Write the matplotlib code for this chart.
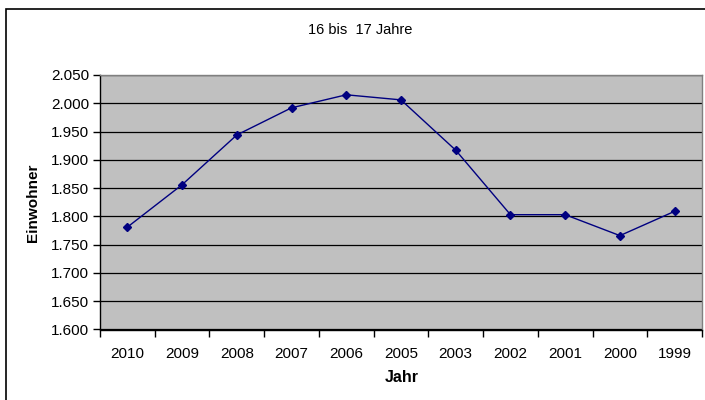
import matplotlib
matplotlib.use("Agg")
import matplotlib.pyplot as plt
from matplotlib.patches import Rectangle
from matplotlib.ticker import FixedLocator, NullFormatter

plt.rcParams['font.family'] = ['Liberation Sans', 'DejaVu Sans']

years = ["2010", "2009", "2008", "2007", "2006", "2005", "2003", "2002", "2001", "2000", "1999"]
values = [1781, 1856, 1944, 1992, 2015, 2006, 1917, 1803, 1803, 1766, 1809]
yticks = [1600, 1650, 1700, 1750, 1800, 1850, 1900, 1950, 2000, 2050]
ytick_labels = ["1.600", "1.650", "1.700", "1.750", "1.800", "1.850", "1.900", "1.950", "2.000", "2.050"]

W, H = 705, 400
fig = plt.figure(figsize=(W / 100, H / 100), dpi=100)
fig.patch.set_facecolor('white')

# outer chart border
fig.add_artist(Rectangle((6 / W, -0.05), 1.2, (H - 9) / H + 0.05, transform=fig.transFigure,
                         fill=False, edgecolor='black', linewidth=1.2))

ax = fig.add_axes([100 / W, (H - 329.5) / H, (702 - 100) / W, (329.5 - 75) / H])
ax.set_facecolor('#c0c0c0')

x = list(range(len(years)))
ax.plot(x, values, color='#000080', linewidth=1.0, marker='D', markersize=4.5,
        markerfacecolor='#000080', markeredgecolor='#000080', zorder=3)

ax.set_xlim(-0.5, len(years) - 0.5)
ax.set_ylim(1600, 2050)
ax.set_yticks(yticks)
ax.set_yticklabels(ytick_labels, fontsize=11)
ax.yaxis.grid(True, color='black', linewidth=0.9)
ax.set_axisbelow(True)

ax.set_xticks(x)
ax.set_xticklabels(years, fontsize=11)
ax.tick_params(axis='x', which='major', length=0, pad=12.5)
ax.xaxis.set_minor_locator(FixedLocator([i - 0.5 for i in range(len(years) + 1)]))
ax.xaxis.set_minor_formatter(NullFormatter())
ax.tick_params(axis='x', which='minor', length=5, width=1, color='black', direction='out')
ax.tick_params(axis='y', length=5, width=1, color='black', direction='out', pad=3)

for s in ['left', 'bottom']:
    ax.spines[s].set_color('black')
    ax.spines[s].set_linewidth(1.0)
for s in ['top', 'right']:
    ax.spines[s].set_color('#808080')
    ax.spines[s].set_linewidth(1.0)

fig.text(360 / W, 1 - 30 / H, "16 bis  17 Jahre", ha='center', va='center', fontsize=10.5)
fig.text(402 / W, 1 - 378 / H, "Jahr", ha='center', va='center', fontsize=11.5, fontweight='bold')
fig.text(33 / W, 1 - 203 / H, "Einwohner", ha='center', va='center', fontsize=11,
         fontweight='bold', rotation=90)

fig.savefig("out.png", dpi=100)
